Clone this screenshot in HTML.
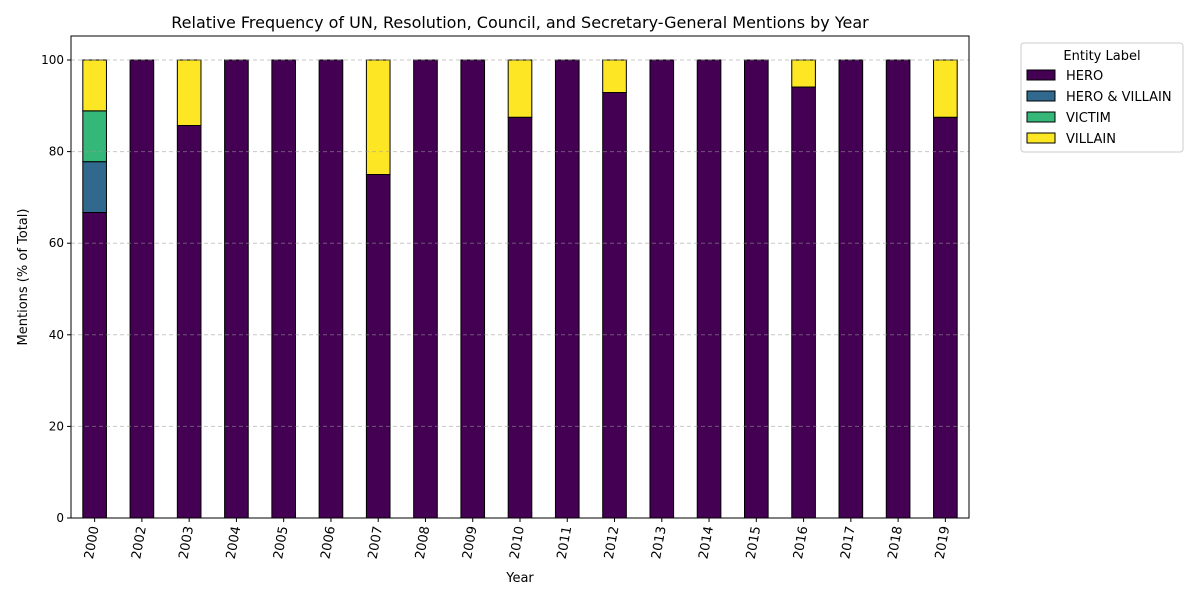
<!DOCTYPE html>
<html><head><meta charset="utf-8"><style>
body{margin:0;background:#fff;font-family:"Liberation Sans","DejaVu Sans",sans-serif;}
</style></head><body>
<svg id="chart" width="1200" height="600" xmlns="http://www.w3.org/2000/svg" font-family="DejaVu Sans, Liberation Sans, sans-serif">
<rect width="1200" height="600" fill="#fff"/>
<text x="520" y="28" text-anchor="middle" font-size="16">Relative Frequency of UN, Resolution, Council, and Secretary-General Mentions by Year</text>
<g id="bars"></g><g id="grid"></g><g id="axes"></g>
<rect x="71" y="36" width="898" height="482" fill="none" stroke="#000" stroke-width="1"/>
<text x="520" y="582" text-anchor="middle" font-size="13">Year</text>
<text transform="translate(27,277) rotate(-90)" text-anchor="middle" font-size="13">Mentions (% of Total)</text>
<g>
<rect x="1021" y="43" width="162" height="109" fill="#fff" stroke="#ccc" rx="3"/>
<text x="1102" y="60" text-anchor="middle" font-size="13">Entity Label</text>
<g id="legend-items"></g>
</g>
</svg>
<script>
const years=["2000","2002","2003","2004","2005","2006","2007","2008","2009","2010","2011","2012","2013","2014","2015","2016","2017","2018","2019"];
const seriesNames=["HERO","HERO & VILLAIN","VICTIM","VILLAIN"];
const hero=[66.7,100,85.7,100,100,100,75,100,100,87.5,100,92.9,100,100,100,94.1,100,100,87.5];
const heroVillain=[11.1,0,0,0,0,0,0,0,0,0,0,0,0,0,0,0,0,0,0];
const victim=[11.1,0,0,0,0,0,0,0,0,0,0,0,0,0,0,0,0,0,0];
const villain=[11.1,0,14.3,0,0,0,25,0,0,12.5,0,7.1,0,0,0,5.9,0,0,12.5];
const yTicks=[0,20,40,60,80,100];
const colors=["#440154","#31688e","#35b779","#fde725"];
const NS="http://www.w3.org/2000/svg";
const L=71,W=898,B=518,T=60;
const step=W/years.length;
const xc=i=>L+(i+0.5)*step;
const y=v=>B-(v/100)*(B-T);
function mk(tag,a,p){const e=document.createElementNS(NS,tag);for(const k in a)e.setAttribute(k,a[k]);p.appendChild(e);return e;}
const grid=document.getElementById('grid'),axes=document.getElementById('axes'),bars=document.getElementById('bars');
yTicks.forEach(t=>{
 const g=mk('line',{x1:L,x2:L+W,y1:y(t),y2:y(t),stroke:'#999','stroke-opacity':0.55,'stroke-dasharray':'4,3'},grid);
 
 
 mk('line',{x1:L-4,x2:L,y1:y(t),y2:y(t),stroke:'#000'},axes);
 const tx=mk('text',{x:L-7,y:y(t)+4,'text-anchor':'end','font-size':12},axes);tx.textContent=t;
 
 
});
const data=[hero,heroVillain,victim,villain];
years.forEach((yr,i)=>{
 let base=0;
 data.forEach((s,k)=>{
  const v=s[i]; if(v<=0)return;
  const r=mk('rect',{x:xc(i)-step/4,width:step/2,y:y(base+v),height:y(base)-y(base+v),fill:colors[k],stroke:'#000','stroke-width':1},bars);
  
  
  base+=v;
 });
 mk('line',{x1:xc(i),x2:xc(i),y1:B,y2:B+4,stroke:'#000'},axes);
 const tx=mk('text',{transform:`translate(${xc(i)+4},${B+9}) rotate(-80)`,'text-anchor':'end','font-size':13},axes);tx.textContent=yr;
 
 
});
const li=document.getElementById('legend-items');
seriesNames.forEach((n,k)=>{
 const yy=70+k*21;
 const g=mk('g',{},li);
 
 
 mk('rect',{x:1027,y:yy,width:28,height:10,fill:colors[k],stroke:'#000'},g);
 const t=mk('text',{x:1066,y:yy+10,'font-size':13},g);t.textContent=n;
});
</script>
</body></html>
